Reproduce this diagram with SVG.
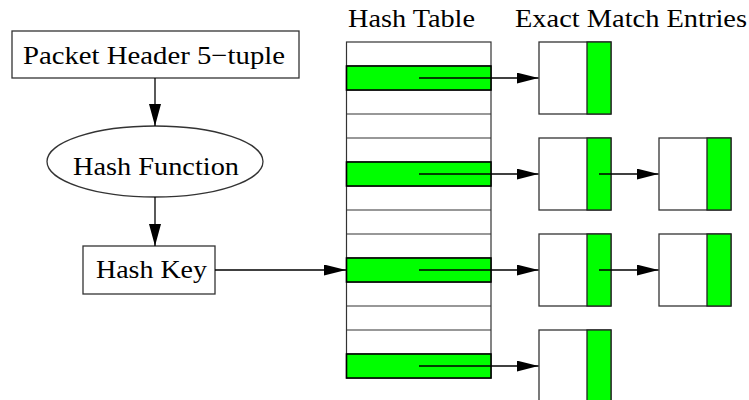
<svg xmlns="http://www.w3.org/2000/svg" width="749" height="400" viewBox="0 0 749 400">
  <style>
    .lbl { font-family: "Liberation Serif", "Times New Roman", serif; font-size: 26px; fill: #000; }
    .box { fill: #fff; stroke: #333; stroke-width: 1.3; }
    .cell { fill: none; stroke: #333; stroke-width: 1.2; }
    .hit { fill: #00ff00; stroke: #000; stroke-width: 1.6; }
    .ptr { fill: #00ff00; stroke: #222; stroke-width: 1.3; }
    .edge { fill: none; stroke: #000; stroke-width: 1.3; }
  </style>
  <defs>
    <marker id="ah" viewBox="0 0 22 11" refX="22" refY="5.5" markerWidth="22" markerHeight="11" markerUnits="userSpaceOnUse" orient="auto">
      <path d="M0,0 L22,5.5 L0,11 Z" fill="#000"/>
    </marker>
    <marker id="ahv" viewBox="0 0 22 12" refX="22" refY="6" markerWidth="22" markerHeight="12" markerUnits="userSpaceOnUse" orient="auto">
      <path d="M0,0 L22,6 L0,12 Z" fill="#000"/>
    </marker>
  </defs>

  <rect width="749" height="400" fill="#fff"/>

  <!-- column headings -->
  <text class="lbl" x="348" y="27" textLength="127" lengthAdjust="spacingAndGlyphs">Hash Table</text>
  <text class="lbl" x="515" y="27" textLength="232" lengthAdjust="spacingAndGlyphs">Exact Match Entries</text>

  <!-- lookup pipeline -->
  <g id="packet-header">
    <rect class="box" x="12" y="31" width="287" height="47"/>
    <text class="lbl" x="23" y="64" textLength="262" lengthAdjust="spacingAndGlyphs">Packet Header 5−tuple</text>
  </g>
  <g id="hash-function">
    <ellipse class="box" cx="155" cy="161.5" rx="108" ry="35.5"/>
    <text class="lbl" x="73" y="174.5" textLength="166" lengthAdjust="spacingAndGlyphs">Hash Function</text>
  </g>
  <g id="hash-key">
    <rect class="box" x="83" y="246" width="132" height="48"/>
    <text class="lbl" x="96" y="278" textLength="111" lengthAdjust="spacingAndGlyphs">Hash Key</text>
  </g>

  <!-- hash table buckets -->
  <g id="hash-table">
    <rect class="cell" x="346.5" y="42" width="144.5" height="336"/>
    <path class="cell" d="M346.5,66H491M346.5,90H491M346.5,114H491M346.5,138H491M346.5,162H491M346.5,186H491M346.5,210H491M346.5,234H491M346.5,258H491M346.5,282H491M346.5,306H491M346.5,330H491M346.5,354H491"/>
    <rect class="hit" x="346.5" y="66" width="144.5" height="24"/>
    <rect class="hit" x="346.5" y="162" width="144.5" height="24"/>
    <rect class="hit" x="346.5" y="258" width="144.5" height="24"/>
    <rect class="hit" x="346.5" y="354" width="144.5" height="24"/>
  </g>

  <!-- exact match entries -->
  <g id="entry-1">
    <rect class="box" x="539" y="42" width="72" height="72"/>
    <rect class="ptr" x="587" y="42" width="24" height="72"/>
  </g>
  <g id="entry-2">
    <rect class="box" x="539" y="138" width="72" height="72"/>
    <rect class="ptr" x="587" y="138" width="24" height="72"/>
  </g>
  <g id="entry-2b">
    <rect class="box" x="659" y="138" width="72" height="72"/>
    <rect class="ptr" x="707" y="138" width="24" height="72"/>
  </g>
  <g id="entry-3">
    <rect class="box" x="539" y="234" width="72" height="72"/>
    <rect class="ptr" x="587" y="234" width="24" height="72"/>
  </g>
  <g id="entry-3b">
    <rect class="box" x="659" y="234" width="72" height="72"/>
    <rect class="ptr" x="707" y="234" width="24" height="72"/>
  </g>
  <g id="entry-4">
    <rect class="box" x="539" y="330" width="72" height="80"/>
    <rect class="ptr" x="587" y="330" width="24" height="80"/>
  </g>

  <!-- connectors -->
  <g id="connectors">
    <line class="edge" x1="155" y1="78" x2="155" y2="126" marker-end="url(#ahv)"/>
    <line class="edge" x1="155" y1="197" x2="155" y2="246" marker-end="url(#ahv)"/>
    <line class="edge" x1="215" y1="270" x2="346" y2="270" marker-end="url(#ah)"/>
    <line class="edge" x1="419" y1="78" x2="538.5" y2="78" marker-end="url(#ah)"/>
    <line class="edge" x1="419" y1="174" x2="538.5" y2="174" marker-end="url(#ah)"/>
    <line class="edge" x1="419" y1="270" x2="538.5" y2="270" marker-end="url(#ah)"/>
    <line class="edge" x1="419" y1="366" x2="538.5" y2="366" marker-end="url(#ah)"/>
    <line class="edge" x1="599" y1="174" x2="658.5" y2="174" marker-end="url(#ah)"/>
    <line class="edge" x1="599" y1="270" x2="658.5" y2="270" marker-end="url(#ah)"/>
  </g>
</svg>
